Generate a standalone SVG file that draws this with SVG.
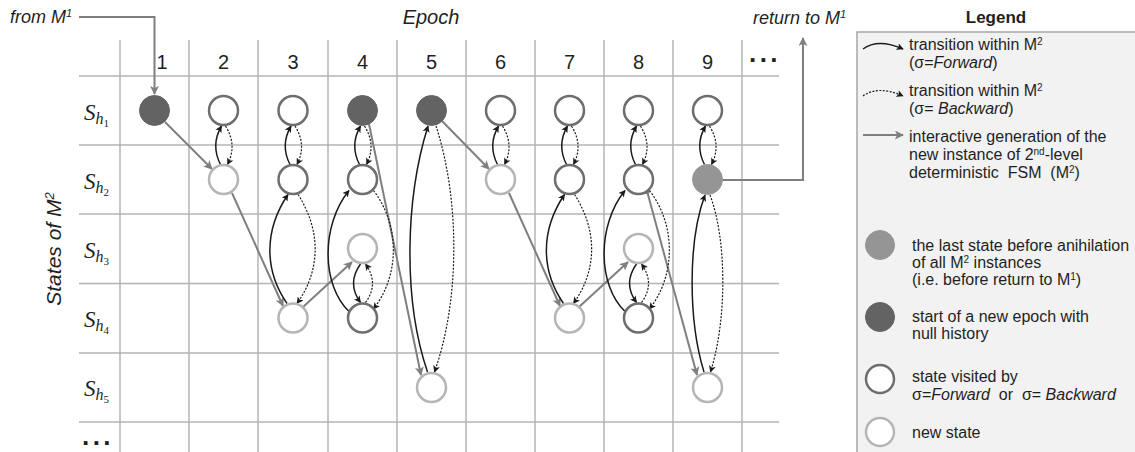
<svg xmlns="http://www.w3.org/2000/svg" width="1135" height="452" viewBox="0 0 1135 452">
<style>
.t{font-family:"Liberation Sans",Arial,sans-serif;fill:#1f1f1f}
.it{font-style:italic}
.grid line{stroke:#b4b4b4;stroke-width:1.5}
.v{fill:#fff;stroke:#6e6e6e;stroke-width:2.5}
.n{fill:#fff;stroke:#b5b5b5;stroke-width:2.5}
.d{fill:#636363;stroke:#636363;stroke-width:1}
.l{fill:#959595;stroke:#959595;stroke-width:1}
.fw{fill:none;stroke:#1a1a1a;stroke-width:1.5;marker-end:url(#ab)}
.bw{fill:none;stroke:#1a1a1a;stroke-width:1.2;stroke-dasharray:2 1.5;marker-end:url(#ab)}
.gen{fill:none;stroke:#7f7f7f;stroke-width:2;marker-end:url(#ag)}
.lg{font-size:16px}
.rl{font-family:"Liberation Serif","Times New Roman",serif;font-style:italic;fill:#1f1f1f;font-size:23px}
</style>
<defs>
<marker id="ab" viewBox="0 0 10 10" refX="9" refY="5" markerWidth="7" markerHeight="7" markerUnits="userSpaceOnUse" orient="auto">
<path d="M0,0 L10,5 L0,10 L2.5,5 z" fill="#1a1a1a"/>
</marker>
<marker id="ag" viewBox="0 0 10 10" refX="9" refY="5" markerWidth="9" markerHeight="9" markerUnits="userSpaceOnUse" orient="auto">
<path d="M0,0 L10,5 L0,10 L2.5,5 z" fill="#7f7f7f"/>
</marker>
</defs>
<rect width="1135" height="452" fill="#fff"/>

<!-- grid -->
<g class="grid">
<line x1="120" y1="40" x2="120" y2="452"/>
<line x1="189" y1="40" x2="189" y2="452"/>
<line x1="258" y1="40" x2="258" y2="452"/>
<line x1="328" y1="40" x2="328" y2="452"/>
<line x1="397" y1="40" x2="397" y2="452"/>
<line x1="466" y1="40" x2="466" y2="452"/>
<line x1="535" y1="40" x2="535" y2="452"/>
<line x1="604" y1="40" x2="604" y2="452"/>
<line x1="673" y1="40" x2="673" y2="452"/>
<line x1="742" y1="40" x2="742" y2="452"/>
<line x1="79" y1="76" x2="779" y2="76"/>
<line x1="79" y1="145" x2="779" y2="145"/>
<line x1="79" y1="214" x2="779" y2="214"/>
<line x1="79" y1="283.5" x2="779" y2="283.5"/>
<line x1="79" y1="353" x2="779" y2="353"/>
<line x1="79" y1="422" x2="779" y2="422"/>
</g>

<!-- axis labels -->
<g id="labels">
<text class="t it" x="431" y="24" font-size="20" text-anchor="middle">Epoch</text>
<text class="t it" x="10" y="23" font-size="18">from M<tspan font-size="11" baseline-shift="super">1</tspan></text>
<text class="t it" x="753" y="24" font-size="18">return to M<tspan font-size="11" baseline-shift="super">1</tspan></text>
<text class="t it" transform="translate(61,249) rotate(-90)" font-size="21" text-anchor="middle">States of M<tspan font-size="13" baseline-shift="super">2</tspan></text>
<g class="t" font-size="20" text-anchor="middle">
<text x="162" y="69">1</text>
<text x="223.5" y="69">2</text>
<text x="293" y="69">3</text>
<text x="362.5" y="69">4</text>
<text x="431.5" y="69">5</text>
<text x="500.5" y="69">6</text>
<text x="569.5" y="69">7</text>
<text x="638.5" y="69">8</text>
<text x="707.5" y="69">9</text>
</g>
<text class="t" x="765" y="62" font-size="26" font-weight="bold" text-anchor="middle" letter-spacing="3.5">...</text>
<text class="t" x="98" y="445" font-size="26" font-weight="bold" text-anchor="middle" letter-spacing="3.5">...</text>
<text class="rl" x="84" y="120">S<tspan font-size="16" dy="4">h</tspan><tspan font-size="11" font-style="normal" dy="3">1</tspan></text>
<text class="rl" x="84" y="189">S<tspan font-size="16" dy="4">h</tspan><tspan font-size="11" font-style="normal" dy="3">2</tspan></text>
<text class="rl" x="84" y="258">S<tspan font-size="16" dy="4">h</tspan><tspan font-size="11" font-style="normal" dy="3">3</tspan></text>
<text class="rl" x="84" y="327">S<tspan font-size="16" dy="4">h</tspan><tspan font-size="11" font-style="normal" dy="3">4</tspan></text>
<text class="rl" x="84" y="396">S<tspan font-size="16" dy="4">h</tspan><tspan font-size="11" font-style="normal" dy="3">5</tspan></text>
</g>

<!-- connectors -->
<g id="connectors">
<path class="gen" d="M79,17 L154.5,17 L154.5,94"/>
<path class="gen" d="M165,122 L212,169"/>
<path class="gen" d="M232,193 L283,306"/>
<path class="gen" d="M303,307 L352,262"/>
<path class="gen" d="M369,124 L421,375"/>
<path class="gen" d="M442,121 L489,169"/>
<path class="gen" d="M509,193 L560,306"/>
<path class="gen" d="M579,307 L628,262"/>
<circle cx="647" cy="191" r="3" fill="#7f7f7f"/>
<path class="gen" d="M647,191 L697,375"/>
<path class="gen" d="M722,180 L803,180 L803,38"/>

<path class="fw" d="M220.5,164.5 Q210.5,145 221.5,126"/>
<path class="bw" d="M225.5,126 Q237.5,145 227.5,164.5"/>
<path class="fw" d="M290,164.5 Q280,145 291,126"/>
<path class="bw" d="M295,126 Q307,145 297,164.5"/>
<path class="fw" d="M287,303.5 C264,270 264,230 288,194.5"/>
<path class="bw" d="M298,194.5 C321,230 321,270 297,303.5"/>
<path class="fw" d="M359.5,164.5 Q349.5,145 360.5,126"/>
<path class="bw" d="M364.5,126 Q376.5,145 366.5,164.5"/>
<path class="fw" d="M349.5,312 C321,285 321,225 349,190.5"/>
<path class="bw" d="M373.5,190.5 C400,225 400,275 373.5,309"/>
<path class="fw" d="M360.5,264 Q346.5,283.5 360.5,302.5"/>
<path class="bw" d="M365.5,302.5 Q379.5,283.5 365.5,264"/>
<path class="fw" d="M427.5,372 C403,300 405,200 428,126"/>
<path class="bw" d="M436,126 C460,200 460,300 434.5,372"/>
<path class="fw" d="M497.5,164.5 Q487.5,145 498.5,126"/>
<path class="bw" d="M502.5,126 Q514.5,145 504.5,164.5"/>
<path class="fw" d="M566.5,164.5 Q556.5,145 567.5,126"/>
<path class="bw" d="M571.5,126 Q583.5,145 573.5,164.5"/>
<path class="fw" d="M563.5,303.5 C540.5,270 540.5,230 564.5,194.5"/>
<path class="bw" d="M574.5,194.5 C597.5,230 597.5,270 573.5,303.5"/>
<path class="fw" d="M635.5,164.5 Q625.5,145 636.5,126"/>
<path class="bw" d="M640.5,126 Q652.5,145 642.5,164.5"/>
<path class="fw" d="M625.5,312 C597,285 597,225 625,190.5"/>
<path class="bw" d="M649.5,190.5 C676,225 676,275 649.5,309"/>
<path class="fw" d="M636.5,264 Q622.5,283.5 636.5,302.5"/>
<path class="bw" d="M641.5,302.5 Q655.5,283.5 641.5,264"/>
<path class="fw" d="M704.5,164.5 Q694.5,145 705.5,126"/>
<path class="bw" d="M709.5,126 Q721.5,145 711.5,164.5"/>
<path class="fw" d="M704,372 C688,320 688,240 705,195"/>
<path class="bw" d="M710,195 C727,240 727,320 710.5,372"/>
</g>

<!-- nodes -->
<g id="c1r1"><circle class="d" cx="154.5" cy="110.5" r="15"/></g>
<g id="c2r1"><circle class="v" cx="223.5" cy="110.5" r="14.5"/></g>
<g id="c2r2"><circle class="n" cx="223.5" cy="179.5" r="14.5"/></g>
<g id="c3r1"><circle class="v" cx="293" cy="110.5" r="14.5"/></g>
<g id="c3r2"><circle class="v" cx="293" cy="179.5" r="14.5"/></g>
<g id="c3r4"><circle class="n" cx="293" cy="318" r="14.5"/></g>
<g id="c4r1"><circle class="d" cx="362.5" cy="110.5" r="15"/></g>
<g id="c4r2"><circle class="v" cx="362.5" cy="179.5" r="14.5"/></g>
<g id="c4r3"><circle class="n" cx="362.5" cy="248.5" r="14.5"/></g>
<g id="c4r4"><circle class="v" cx="362.5" cy="318" r="14.5"/></g>
<g id="c5r1"><circle class="d" cx="431.5" cy="110.5" r="15"/></g>
<g id="c5r5"><circle class="n" cx="431.5" cy="387.5" r="14.5"/></g>
<g id="c6r1"><circle class="v" cx="500.5" cy="110.5" r="14.5"/></g>
<g id="c6r2"><circle class="n" cx="500.5" cy="179.5" r="14.5"/></g>
<g id="c7r1"><circle class="v" cx="569.5" cy="110.5" r="14.5"/></g>
<g id="c7r2"><circle class="v" cx="569.5" cy="179.5" r="14.5"/></g>
<g id="c7r4"><circle class="n" cx="569.5" cy="318" r="14.5"/></g>
<g id="c8r1"><circle class="v" cx="638.5" cy="110.5" r="14.5"/></g>
<g id="c8r2"><circle class="v" cx="638.5" cy="179.5" r="14.5"/></g>
<g id="c8r3"><circle class="n" cx="638.5" cy="248.5" r="14.5"/></g>
<g id="c8r4"><circle class="v" cx="638.5" cy="318" r="14.5"/></g>
<g id="c9r1"><circle class="v" cx="707.5" cy="110.5" r="14.5"/></g>
<g id="c9r2"><circle class="l" cx="707.5" cy="179.5" r="15"/></g>
<g id="c9r5"><circle class="n" cx="707.5" cy="387.5" r="14.5"/></g>

<!-- legend -->
<g id="legend">
<text class="t" x="996" y="23" font-size="17" font-weight="bold" text-anchor="middle">Legend</text>
<rect x="857" y="32" width="300" height="440" fill="#f2f2f2" stroke="#a6a6a6" stroke-width="1.5"/>
<path class="fw" d="M863,49 Q878,38 903,49"/>
<path class="bw" d="M863,96 Q878,85 903,96"/>
<path class="gen" d="M863,135 L903,135"/>
<circle class="l" cx="880" cy="245" r="14.5"/>
<circle class="d" cx="880" cy="317" r="14.5"/>
<circle class="v" cx="880" cy="379" r="14"/>
<circle class="n" cx="880" cy="432" r="14"/>
<g class="t lg">
<text x="909" y="50">transition within M<tspan font-size="10" baseline-shift="super">2</tspan></text>
<text x="909" y="68">(σ=<tspan class="it">Forward</tspan>)</text>
<text x="909" y="96">transition within M<tspan font-size="10" baseline-shift="super">2</tspan></text>
<text x="909" y="114">(σ= <tspan class="it">Backward</tspan>)</text>
<text x="909" y="142">interactive generation of the</text>
<text x="909" y="160">new instance of 2<tspan font-size="10" baseline-shift="super">nd</tspan>-level</text>
<text x="909" y="178" xml:space="preserve">deterministic  FSM  (M<tspan font-size="10" baseline-shift="super">2</tspan>)</text>
<text x="912" y="251">the last state before anihilation</text>
<text x="912" y="268">of all M<tspan font-size="10" baseline-shift="super">2</tspan> instances</text>
<text x="912" y="285">(i.e. before return to M<tspan font-size="10" baseline-shift="super">1</tspan>)</text>
<text x="912" y="322">start of a new epoch with</text>
<text x="912" y="339">null history</text>
<text x="912" y="382">state visited by</text>
<text x="912" y="400" xml:space="preserve">σ=<tspan class="it">Forward</tspan>  or  σ= <tspan class="it">Backward</tspan></text>
<text x="912" y="438">new state</text>
</g>
</g>
</svg>
